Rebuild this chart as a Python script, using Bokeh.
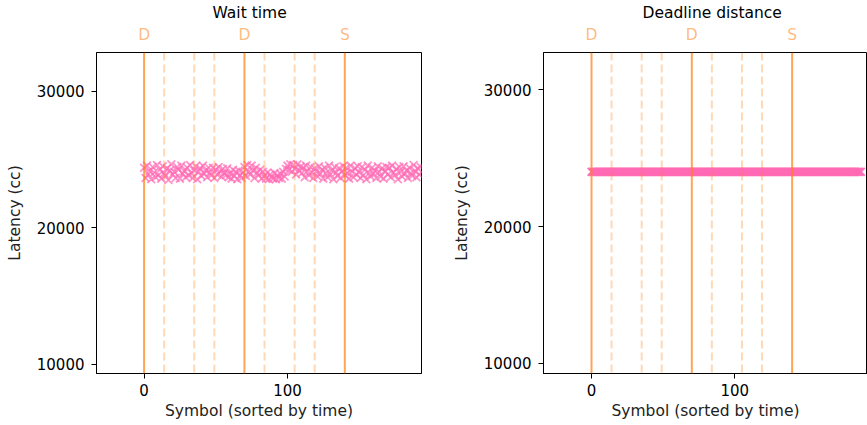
from bokeh.plotting import figure
from bokeh.models import Range1d, LinearAxis, FixedTicker, Span
from bokeh.layouts import row
from bokeh.embed import file_html
from bokeh.resources import INLINE

# ---------------- data ----------------
titles = ["Wait time", "Deadline distance"]
x_label = "Symbol (sorted by time)"
y_label = "Latency (cc)"

slot_lines = [0, 70, 140]           # solid markers
slot_labels = ["D", "D", "S"]
sub_lines = [14, 35, 49, 84, 105, 119]  # dashed markers

x_ticks = [0, 100]
y_ticks = [10000, 20000, 30000]

symbol_wait = list(range(0, 194))
latency_wait = [
    24400, 23650, 24550, 23900, 24150, 23550, 24450, 24050, 23700, 24600,
    23850, 24250, 23600, 24500, 24000, 23800, 24350, 23500, 24200, 24650,
    23900, 24100, 23650, 24450, 24250, 23600, 24550, 23950, 24150, 23700,
    24400, 23850, 24600, 24000, 23650, 24200, 24500, 23550, 24100, 24350,
    23800, 24550, 23950, 24200, 23700, 24400, 24050, 23850, 24400, 23650,
    24250, 23900, 24450, 24100, 23750, 24300, 24000, 23850, 24350, 23700,
    23950, 23600, 24250, 23800, 24100, 23550, 24200, 23850, 23650, 24050,
    24450, 23800, 24600, 24100, 23900, 24550, 24200, 23650, 24400, 24050,
    23850, 24250, 23600, 24100, 23800, 23600, 24050, 23550, 23900, 23700,
    23600, 24000, 23550, 23850, 23650, 23950, 23600, 24100, 23750, 24300,
    24550, 24250, 24650, 24100, 24600, 24300, 23900, 24650, 24200, 24450,
    24000, 24400, 23700, 24550, 24150, 23850, 24450, 24050, 23650, 24350,
    24100, 23750, 24500, 23950, 24250, 23600, 24400, 24000, 23700, 24550,
    23900, 24200, 23550, 24450, 24050, 23800, 24350, 23650, 24150, 24500,
    23850, 24400, 24000, 23600, 24550, 24100, 23700, 24350, 23900, 24500,
    24050, 23650, 24450, 23850, 24250, 23550, 24550, 24000, 23750, 24400,
    23950, 24200, 23650, 24500, 24100, 23750, 24350, 23600, 24150, 24450,
    23900, 24400, 23700, 24550, 24050, 23850, 24300, 23550, 24450, 24100,
    23750, 24500, 23950, 24200, 23650, 24400, 24000, 23800, 24600, 24150,
    23700, 24350, 23900, 24450,
]

symbol_deadline = list(range(0, 189))
latency_deadline = [
    24000, 24000, 24000, 24000, 24000, 24000, 24000, 24000, 24000, 24000, 24000, 24000, 24000, 24000, 24000, 24000, 24000, 24000, 24000, 24000, 24000,
    24000, 24000, 24000, 24000, 24000, 24000, 24000, 24000, 24000, 24000, 24000, 24000, 24000, 24000, 24000, 24000, 24000, 24000, 24000, 24000, 24000,
    24000, 24000, 24000, 24000, 24000, 24000, 24000, 24000, 24000, 24000, 24000, 24000, 24000, 24000, 24000, 24000, 24000, 24000, 24000, 24000, 24000,
    24000, 24000, 24000, 24000, 24000, 24000, 24000, 24000, 24000, 24000, 24000, 24000, 24000, 24000, 24000, 24000, 24000, 24000, 24000, 24000, 24000,
    24000, 24000, 24000, 24000, 24000, 24000, 24000, 24000, 24000, 24000, 24000, 24000, 24000, 24000, 24000, 24000, 24000, 24000, 24000, 24000, 24000,
    24000, 24000, 24000, 24000, 24000, 24000, 24000, 24000, 24000, 24000, 24000, 24000, 24000, 24000, 24000, 24000, 24000, 24000, 24000, 24000, 24000,
    24000, 24000, 24000, 24000, 24000, 24000, 24000, 24000, 24000, 24000, 24000, 24000, 24000, 24000, 24000, 24000, 24000, 24000, 24000, 24000, 24000,
    24000, 24000, 24000, 24000, 24000, 24000, 24000, 24000, 24000, 24000, 24000, 24000, 24000, 24000, 24000, 24000, 24000, 24000, 24000, 24000, 24000,
    24000, 24000, 24000, 24000, 24000, 24000, 24000, 24000, 24000, 24000, 24000, 24000, 24000, 24000, 24000, 24000, 24000, 24000, 24000, 24000, 24000,
]

# ---------------- styling ----------------
FONT = "DejaVu Sans"
PINK = "#ff69b4"
ORANGE = "#ff7f0e"


def make_panel(title, xs, ys, alpha, x_rng, y_rng, width, mbl, mbr, mbt, title_offset):
    p = figure(width=width, height=425, x_range=Range1d(*x_rng), y_range=Range1d(*y_rng),
               output_backend="svg", toolbar_location=None,
               min_border_left=mbl, min_border_right=mbr, min_border_top=mbt,
               min_border_bottom=425 - 373 - (mbt - 50))
    p.grid.visible = False
    p.outline_line_color = "black"
    p.outline_line_alpha = 1
    p.background_fill_color = "white"
    p.border_fill_color = "white"

    p.scatter(xs, ys, marker="x", size=11, line_color=PINK, line_alpha=alpha, line_width=1.8)

    for loc in slot_lines:
        p.add_layout(Span(location=loc, dimension="height", line_color=ORANGE,
                          line_alpha=0.7, line_width=2))
    for loc in sub_lines:
        p.add_layout(Span(location=loc, dimension="height", line_color=ORANGE,
                          line_alpha=0.3, line_width=2, line_dash="8 4"))

    # axes
    for ax in (p.xaxis[0], p.yaxis[0]):
        ax.minor_tick_line_color = None
        ax.major_tick_out = 5
        ax.major_tick_in = 0
        ax.axis_line_color = "black"
        ax.major_tick_line_color = "black"
        ax.major_label_text_font = FONT
        ax.major_label_text_font_size = "15px"
        ax.major_label_text_color = "black"
        ax.axis_label_text_font = FONT
        ax.axis_label_text_font_size = "15.5px"
        ax.axis_label_text_font_style = "normal"
        ax.axis_label_text_color = "#222222"
    p.xaxis[0].ticker = FixedTicker(ticks=x_ticks)
    p.yaxis[0].ticker = FixedTicker(ticks=y_ticks)
    p.xaxis[0].axis_label = x_label
    p.yaxis[0].axis_label = y_label
    p.xaxis[0].major_label_standoff = 5
    p.xaxis[0].axis_label_standoff = 3
    p.yaxis[0].major_label_standoff = 7
    p.yaxis[0].axis_label_standoff = 10

    top = LinearAxis(ticker=FixedTicker(ticks=slot_lines),
                     major_label_overrides={k: v for k, v in zip(slot_lines, slot_labels)})
    top.axis_line_color = None
    top.major_tick_line_color = None
    top.minor_tick_line_color = None
    top.major_tick_out = 0
    top.major_tick_in = 0
    top.major_label_standoff = 9
    top.major_label_text_font = FONT
    top.major_label_text_font_size = "15.5px"
    top.major_label_text_color = ORANGE
    top.major_label_text_alpha = 0.55
    p.add_layout(top, "above")

    p.title.text = title
    p.title.text_font = FONT
    p.title.text_font_size = "15.5px"
    p.title.text_font_style = "normal"
    p.title.text_color = "black"
    p.title.align = "left"
    p.title.offset = title_offset
    p.title.standoff = 2
    return p


p1 = make_panel(titles[0], symbol_wait, latency_wait, 0.7, (-33.2, 193.5), (9320, 32840),
                440, 96, 19, 50, 116)
p2 = make_panel(titles[1], symbol_deadline, latency_deadline, 0.9, (-33.5, 192.6), (9250, 32730),
                427, 103, 0, 52, 99)

layout = row(p1, p2)
open("out.html", "w").write(file_html(layout, INLINE))
